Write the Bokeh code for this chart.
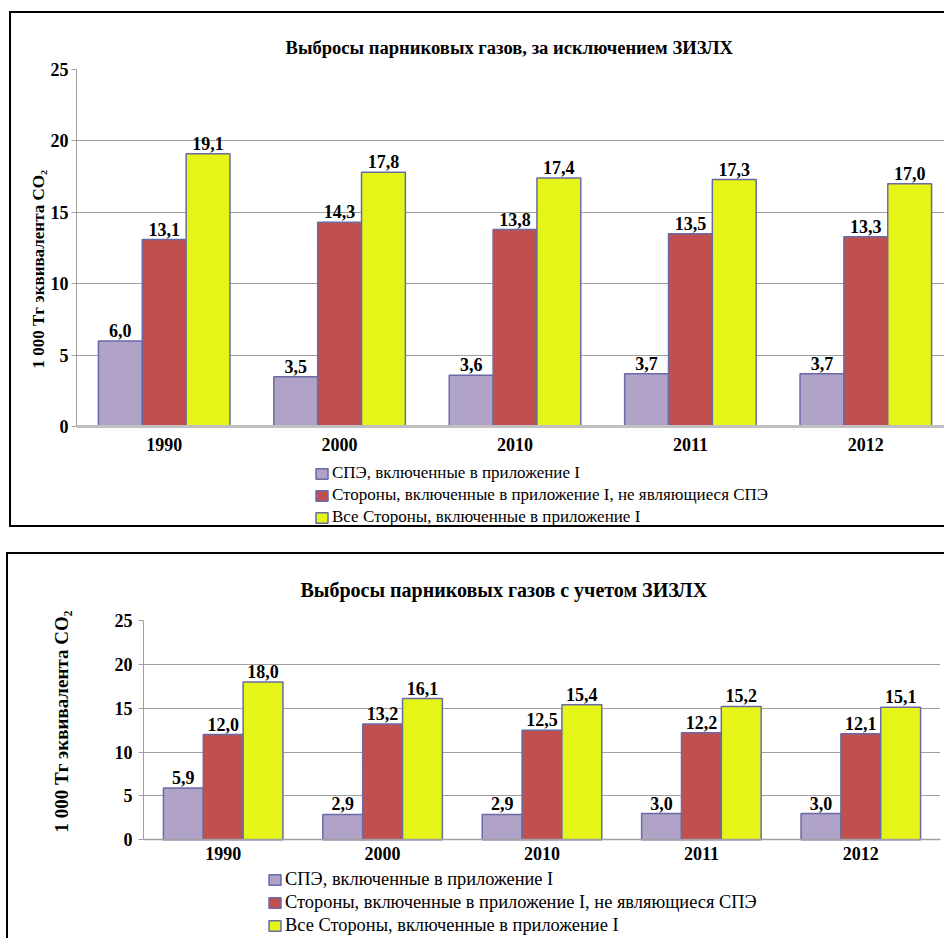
from bokeh.plotting import figure
from bokeh.models import (ColumnDataSource, Range1d, FixedTicker, Legend, LegendItem, Title)
from bokeh.transform import dodge
from bokeh.core.properties import value
from bokeh.embed import file_html
from bokeh.resources import INLINE

# ---------------- data ----------------
years = ["1990", "2000", "2010", "2011", "2012"]
series_names = [
    "СПЭ, включенные в приложение I",
    "Стороны, включенные в приложение I, не являющиеся СПЭ",
    "Все Стороны, включенные в приложение I",
]
title_top = "Выбросы парниковых газов, за исключением ЗИЗЛХ"
title_bottom = "Выбросы парниковых газов с учетом ЗИЗЛХ"
y_label = "1 000 Тг эквивалента CO₂"
y_ticks = [0, 5, 10, 15, 20, 25]

# without LULUCF
top_spe = [6.0, 3.5, 3.6, 3.7, 3.7]
top_non_spe = [13.1, 14.3, 13.8, 13.5, 13.3]
top_all = [19.1, 17.8, 17.4, 17.3, 17.0]

# with LULUCF
bot_spe = [5.9, 2.9, 2.9, 3.0, 3.0]
bot_non_spe = [12.0, 13.2, 12.5, 12.2, 12.1]
bot_all = [18.0, 16.1, 15.4, 15.2, 15.1]

colors = ["#B1A2C7", "#C0504D", "#E5F518"]
outline = "#6A6AA6"
FONT = "Liberation Serif"


def fmt(vals):
    return [f"{v:.1f}".replace(".", ",") for v in vals]


def make_chart(title, s1, s2, s3, width, height, x_end, y_start, mb, font_px, title_px,
               ylab_px, legend_px, xlab_standoff, tick_standoff, title_standoff, title_offset,
               ylab_standoff, ylab_offset, legend_loc, border_css, margin, zero_line):
    src = ColumnDataSource(dict(
        x=list(range(len(years))),
        a=s1, b=s2, c=s3,
        la=fmt(s1), lb=fmt(s2), lc=fmt(s3),
    ))
    p = figure(width=width, height=height, output_backend="svg",
               toolbar_location=None, x_range=Range1d(-0.5, x_end),
               y_range=Range1d(y_start, 25),
               min_border_left=mb[0], min_border_top=mb[1],
               min_border_right=mb[2], min_border_bottom=mb[3],
               styles=border_css, margin=margin)
    p.outline_line_color = None
    p.background_fill_color = "white"
    p.border_fill_color = "white"

    p.title.text = title
    p.title.align = "left"
    p.title.text_font = FONT
    p.title.text_font_style = "bold"
    p.title.text_font_size = f"{title_px}px"
    p.title.text_color = "black"
    p.title.offset = title_offset
    p.title.standoff = title_standoff

    renderers = []
    for off, col, colr in [(-0.25, "a", colors[0]), (0.0, "b", colors[1]), (0.25, "c", colors[2])]:
        r = p.vbar(x=dodge("x", off), top=col, width=0.25, source=src,
                   fill_color=colr, line_color=outline, line_width=1.5)
        renderers.append(r)
        p.text(x=dodge("x", off), y=col, text="l" + col, source=src,
               text_align="center", text_baseline="bottom", y_offset=-4,
               text_font=value(FONT), text_font_style="bold",
               text_font_size=f"{font_px}px", text_color="black")

    # x axis sits at y = 0 inside the frame
    xax = p.xaxis[0]
    xax.fixed_location = 0
    xax.ticker = FixedTicker(ticks=list(range(len(years))))
    xax.major_label_overrides = {i: y for i, y in enumerate(years)}
    xax.major_tick_line_color = None
    xax.minor_tick_line_color = None
    xax.axis_line_color = zero_line[0]
    xax.axis_line_width = zero_line[1]
    xax.major_label_text_font = FONT
    xax.major_label_text_font_style = "bold"
    xax.major_label_text_font_size = f"{font_px}px"
    xax.major_label_text_color = "black"
    xax.major_label_standoff = xlab_standoff

    yax = p.yaxis[0]
    yax.ticker = FixedTicker(ticks=y_ticks)
    yax.bounds = (0, 25)
    yax.minor_tick_line_color = None
    yax.major_tick_in = 0
    yax.major_tick_out = 5
    yax.major_tick_line_color = "#A0A0A0"
    yax.axis_line_color = "#A0A0A0"
    yax.major_label_text_font = FONT
    yax.major_label_text_font_style = "bold"
    yax.major_label_text_font_size = f"{font_px}px"
    yax.major_label_text_color = "black"
    yax.major_label_standoff = tick_standoff

    ylab = Title(text=y_label, align="left", offset=ylab_offset, standoff=ylab_standoff,
                 text_font=FONT, text_font_style="bold", text_font_size=f"{ylab_px}px",
                 text_color="black")
    p.add_layout(ylab, "left")

    p.xgrid.grid_line_color = None
    p.ygrid.grid_line_color = "#A0A0A0"
    p.ygrid.grid_line_width = 1

    legend = Legend(items=[LegendItem(label=n, renderers=[r]) for n, r in zip(series_names, renderers)],
                    location=legend_loc, orientation="vertical")
    legend.border_line_color = None
    legend.background_fill_alpha = 0
    legend.padding = 0
    legend.margin = 0
    legend.spacing = 2
    legend.glyph_width = 15
    legend.glyph_height = 13
    legend.label_height = 20
    legend.label_standoff = 3
    legend.label_text_font = FONT
    legend.label_text_font_size = f"{legend_px}px"
    legend.label_text_color = "black"
    legend.label_text_baseline = "middle"
    p.add_layout(legend, "center")
    return p


p1 = make_chart(title_top, top_spe, top_non_spe, top_all,
                width=935, height=516, x_end=4.46, y_start=-7.2, mb=(65, 56, 0, 0),
                font_px=18, title_px=18.6, ylab_px=17, legend_px=17,
                xlab_standoff=5, tick_standoff=3, title_standoff=23, title_offset=209,
                ylab_standoff=0, ylab_offset=161, legend_loc=(238, 2),
                border_css={"border-left": "2px solid black", "border-top": "2px solid black",
                            "border-bottom": "2px solid black"},
                margin=(11, 0, 0, 9),
                zero_line=("#C0C0C0", 3))

p2 = make_chart(title_bottom, bot_spe, bot_non_spe, bot_all,
                width=938, height=386, x_end=4.5, y_start=-11.47, mb=(135, 66, 6, 0),
                font_px=18, title_px=20, ylab_px=19, legend_px=18.4,
                xlab_standoff=1, tick_standoff=6, title_standoff=40, title_offset=157,
                ylab_standoff=80, ylab_offset=108, legend_loc=(124, 4),
                border_css={"border-left": "2px solid black", "border-top": "2px solid black"},
                margin=(25, 0, 0, 6),
                zero_line=("#A0A0A0", 1.5))

open("out.html", "w").write(file_html([p1, p2], INLINE))
